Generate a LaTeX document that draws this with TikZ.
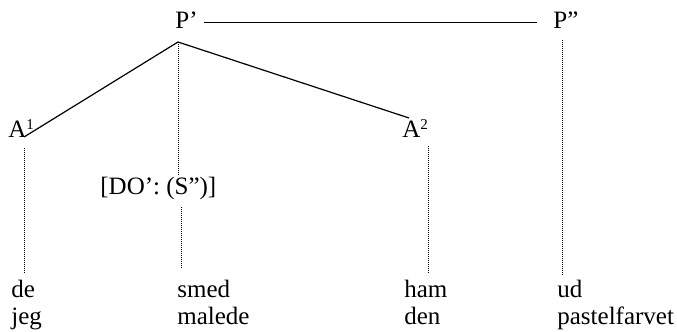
\documentclass[tikz,border=0pt]{standalone}
\usepackage{fontspec}
\setmainfont{Liberation Serif}
\usetikzlibrary{positioning}

\newcommand{\supidx}[1]{\raisebox{4pt}{\fontsize{7.5}{8}\selectfont #1}}

\begin{document}
\begin{tikzpicture}[
    x=0.5pt, y=-0.5pt,
    word/.style = {
        anchor=base west,
        inner sep=0pt,
        font=\fontsize{12.5}{15}\selectfont
    },
    branch/.style = {line width=0.6pt},
    bar/.style = {line width=0.5pt},
    link/.style = {line width=0.4pt, dash pattern=on 0.4pt off 0.6pt}
]
\useasboundingbox (0,0) rectangle (677,332);

% top level
\node [word] (pone) at (175,28) {P’};
\node [word] (ptwo) at (553,28) {P”};

% arguments
\node [word] (aone) at (8,138) {A\supidx{1}};
\node [word] (atwo) at (402,138) {A\supidx{2}};
\node [word] (do) at (100,195) {[DO’: (S”)]};

% words
\node [word] (de) at (11,298) {de};
\node [word] (jeg) at (11,325) {jeg};
\node [word] (smed) at (177,298) {smed};
\node [word] (malede) at (177,325) {malede};
\node [word] (ham) at (404,298) {ham};
\node [word] (den) at (404,325) {den};
\node [word] (ud) at (557,298) {ud};
\node [word] (pastel) at (557,325) {pastelfarvet};

\coordinate (apex) at ([shift={(3,14)}]pone.base west);

\draw[bar] ([shift={(29,-5)}]pone.base west) -- ([shift={(-16,-5)}]ptwo.base west);

\draw[branch] ([shift={(16,-1)}]aone.base west) -- (apex) -- ([shift={(7,-20)}]atwo.base west);

\draw[link] ([shift={(16,10)}]aone.base west) -- ([shift={(13,-25)}]de.base west);
\draw[link] (apex) -- ([shift={(78,-20)}]do.base west);
\draw[link] ([shift={(81,12)}]do.base west) -- ([shift={(4,-30)}]smed.base west);
\draw[link] ([shift={(26,8)}]atwo.base west) -- ([shift={(24,-25)}]ham.base west);
\draw[link] ([shift={(9,12)}]ptwo.base west) -- ([shift={(5,-23)}]ud.base west);

\end{tikzpicture}
\end{document}
